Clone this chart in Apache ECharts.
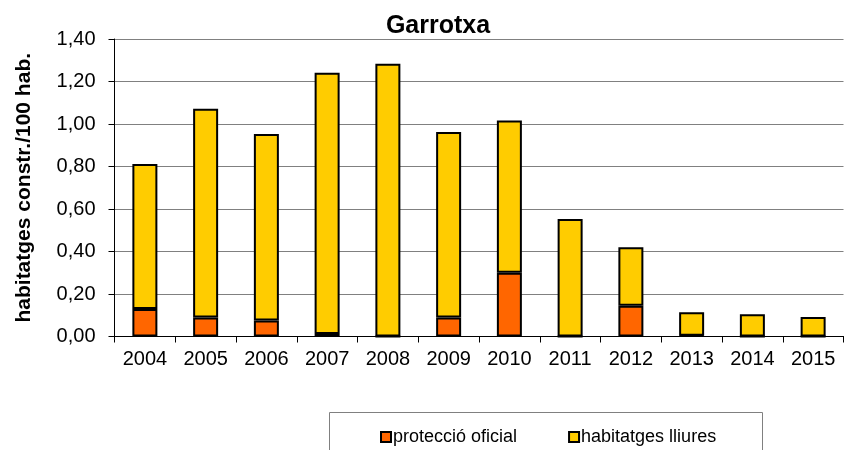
<!DOCTYPE html>
<html>
<head>
<meta charset="utf-8">
<script src="https://cdn.jsdelivr.net/npm/echarts@6/dist/echarts.min.js"></script>
<style>html,body{margin:0;padding:0;background:#fff;}#c{width:853px;height:450px;}</style>
</head>
<body>
<div id="c"></div>
<script>
var years = ['2004','2005','2006','2007','2008','2009','2010','2011','2012','2013','2014','2015'];
var oficial = [0.13, 0.09, 0.075, 0.012, 0.0, 0.09, 0.30, 0.0, 0.145, 0.004, 0.0, 0.0];
var totals = [0.812, 1.072, 0.953, 1.241, 1.283, 0.962, 1.017, 0.553, 0.42, 0.114, 0.105, 0.092];
var lliures = totals.map(function (t, i) { return +(t - oficial[i]).toFixed(3); });
var yTicks = { min: 0, max: 1.4, interval: 0.2 };

var chart = echarts.init(document.getElementById('c'));
var F = 'Liberation Sans, Arial, sans-serif';
chart.setOption({
  animation: false,
  title: {
    text: 'Garrotxa', left: 433, top: 9, textAlign: 'center',
    textStyle: { fontFamily: F, fontSize: 25, fontWeight: 'bold', color: '#000' }
  },
  graphic: [{
    type: 'rect', left: 329, top: 412,
    shape: { width: 433, height: 50 },
    style: { fill: '#fff', stroke: '#808080', lineWidth: 1 }, z: 0
  }],
  legend: {
    left: 375, top: 423, itemWidth: 10, itemHeight: 10, itemGap: 51,
    icon: 'rect',
    textStyle: { fontFamily: F, fontSize: 18, color: '#000', padding: [0, 0, 0, -3] },
    data: ['protecció oficial', 'habitatges lliures'], z: 5
  },
  grid: { left: 114.5, right: 9.5, top: 39, bottom: 113.5, containLabel: false },
  xAxis: {
    type: 'category', data: years,
    axisLine: { lineStyle: { color: '#000', width: 1 } },
    axisTick: { show: true, length: 6, lineStyle: { color: '#000' } },
    axisLabel: { fontFamily: F, fontSize: 20, color: '#000', margin: 13 }
  },
  yAxis: {
    type: 'value', min: yTicks.min, max: yTicks.max, interval: yTicks.interval,
    name: 'habitatges constr./100 hab.', nameLocation: 'middle', nameGap: 80, nameRotate: 90,
    nameTextStyle: { fontFamily: F, fontSize: 21, fontWeight: 'bold', color: '#000' },
    axisLine: { show: true, lineStyle: { color: '#000', width: 1 } },
    axisTick: { show: true, length: 6, lineStyle: { color: '#000' } },
    axisLabel: {
      fontFamily: F, fontSize: 20, color: '#000', margin: 19,
      formatter: function (v) { return v.toFixed(2).replace('.', ','); }
    },
    splitLine: { show: true, lineStyle: { color: '#808080', width: 1 } }
  },
  series: [
    {
      name: 'protecció oficial', type: 'bar', stack: 's', data: oficial, barWidth: 25,
      itemStyle: { color: '#FF6600', borderColor: '#000', borderWidth: 2 }
    },
    {
      name: 'habitatges lliures', type: 'bar', stack: 's', data: lliures, barWidth: 25,
      itemStyle: { color: '#FFCC00', borderColor: '#000', borderWidth: 2 }
    }
  ]
});
</script>
</body>
</html>
